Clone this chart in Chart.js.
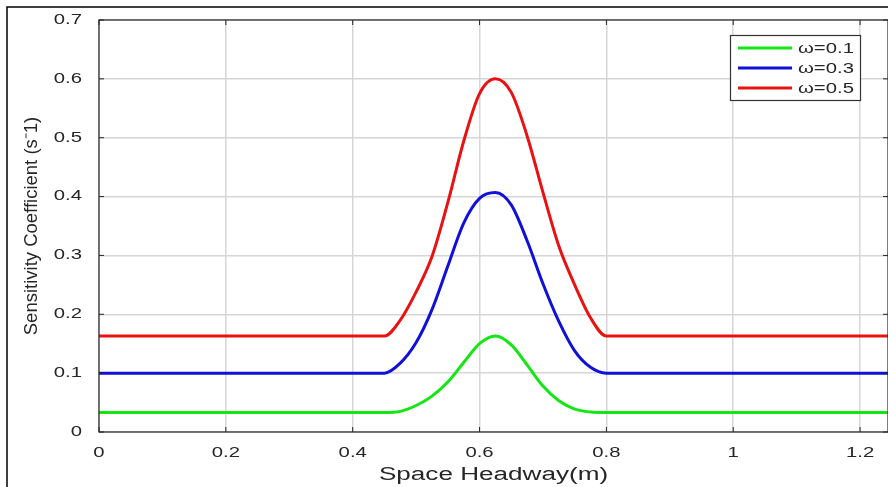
<!DOCTYPE html>
<html>
<head>
<meta charset="utf-8">
<script src="https://cdn.jsdelivr.net/npm/chart.js@4.4.1/dist/chart.umd.min.js"></script>
<style>
html,body{margin:0;padding:0;background:#fff;}
#wrap{width:888px;height:487px;position:relative;}
</style>
</head>
<body>
<div id="wrap"><canvas id="c"></canvas></div>
<script>
// ---- data ----
const headway = [0, 0.45, 0.475, 0.5, 0.525, 0.55, 0.575, 0.6, 0.625, 0.65, 0.675, 0.7, 0.725, 0.75, 0.775, 0.8, 1.25];
const omega01 = [0.033, 0.033, 0.035, 0.045, 0.061, 0.085, 0.118, 0.150, 0.163, 0.148, 0.114, 0.078, 0.053, 0.039, 0.034, 0.033, 0.033];
const omega03 = [0.100, 0.100, 0.117, 0.152, 0.208, 0.282, 0.355, 0.397, 0.407, 0.386, 0.325, 0.252, 0.188, 0.138, 0.110, 0.100, 0.100];
const omega05 = [0.163, 0.163, 0.190, 0.238, 0.298, 0.390, 0.494, 0.575, 0.600, 0.577, 0.503, 0.407, 0.316, 0.250, 0.194, 0.163, 0.163];
const seriesLabels = ['ω=0.1', 'ω=0.3', 'ω=0.5'];
const seriesColors = ['#14e614', '#1010d8', '#e81212'];
const xTickValues = [0, 0.2, 0.4, 0.6, 0.8, 1, 1.2];
const yTickValues = [0, 0.1, 0.2, 0.3, 0.4, 0.5, 0.6, 0.7];
const xTitle = 'Space Headway(m)';
const yTitle = 'Sensitivity Coefficient (s\u207B1)';

const FONT = "'Liberation Sans', Arial, Helvetica, sans-serif";
const STRETCH = 1.45;   // horizontal text in the reference is drawn wide
const AXIS = '#262626';

const canvas = document.getElementById('c');
const ctx0 = canvas.getContext('2d');
const protoFill = CanvasRenderingContext2D.prototype.fillText;
ctx0.fillText = function (text, x, y, maxWidth) {
  const m = this.getTransform();
  if (Math.abs(m.b) > 1e-6) {
    return maxWidth === undefined ? protoFill.call(this, text, x, y) : protoFill.call(this, text, x, y, maxWidth);
  }
  this.save();
  this.translate(x, y);
  this.scale(STRETCH, 1);
  if (maxWidth === undefined) protoFill.call(this, text, 0, 0);
  else protoFill.call(this, text, 0, 0, maxWidth / STRETCH);
  this.restore();
};

const toPoints = (ys) => headway.map((x, i) => ({ x: x, y: ys[i] }));
const seriesValues = [omega01, omega03, omega05];

const boxPlugin = {
  id: 'matlabBox',
  afterDatasetsDraw(chart) {
    const { ctx, chartArea: a, scales } = chart;
    ctx.save();
    // outer figure frame (left & top)
    ctx.strokeStyle = '#000';
    ctx.lineWidth = 1.5;
    ctx.beginPath();
    ctx.moveTo(7, 487); ctx.lineTo(7, 7); ctx.lineTo(888, 7);
    ctx.stroke();
    // axes box
    ctx.strokeStyle = AXIS;
    ctx.lineWidth = 1.2;
    ctx.strokeRect(a.left, a.top, a.right - a.left, a.bottom - a.top);
    // inward ticks
    ctx.lineWidth = 1;
    const tl = 5;
    ctx.beginPath();
    scales.x.ticks.forEach(t => {
      const px = scales.x.getPixelForValue(t.value);
      ctx.moveTo(px, a.bottom); ctx.lineTo(px, a.bottom - tl);
      ctx.moveTo(px, a.top); ctx.lineTo(px, a.top + tl);
    });
    scales.y.ticks.forEach(t => {
      const py = scales.y.getPixelForValue(t.value);
      ctx.moveTo(a.left, py); ctx.lineTo(a.left + tl, py);
      ctx.moveTo(a.right, py); ctx.lineTo(a.right - tl, py);
    });
    ctx.stroke();
    ctx.restore();
  },
  afterDraw(chart) {
    const { ctx } = chart;
    const ds = chart.data.datasets;
    ctx.save();
    const bx = 730, by = 35, bw = 130, bh = 65;
    ctx.fillStyle = '#fff';
    ctx.fillRect(bx, by, bw, bh);
    ctx.strokeStyle = '#333';
    ctx.lineWidth = 1.2;
    ctx.strokeRect(bx + 0.5, by + 0.5, bw, bh);
    ctx.font = '14px ' + FONT;
    ctx.textAlign = 'left';
    ctx.textBaseline = 'middle';
    ds.forEach((d, i) => {
      const y = by + 13 + i * 20;
      ctx.strokeStyle = d.borderColor;
      ctx.lineWidth = 3;
      ctx.beginPath();
      ctx.moveTo(738, y); ctx.lineTo(792, y);
      ctx.stroke();
      ctx.fillStyle = AXIS;
      ctx.fillText(d.label, 798, y + 1);
    });
    ctx.restore();
  }
};

new Chart(canvas, {
  type: 'line',
  data: {
    datasets: seriesLabels.map((lab, i) => ({
      label: lab,
      data: toPoints(seriesValues[i]),
      borderColor: seriesColors[i],
      backgroundColor: seriesColors[i],
      borderWidth: 3,
      pointRadius: 0,
      fill: false,
      cubicInterpolationMode: 'monotone'
    }))
  },
  options: {
    responsive: true,
    maintainAspectRatio: false,
    animation: false,
    devicePixelRatio: 1,
    events: [],
    layout: { padding: { top: 20, left: 0, right: 0, bottom: 0 } },
    plugins: { legend: { display: false }, tooltip: { enabled: false } },
    scales: {
      x: {
        type: 'linear',
        min: 0,
        max: 1.244,
        afterBuildTicks: s => { s.ticks = xTickValues.map(v => ({ value: v })); },
        afterFit: s => { s.height = 55; s.paddingLeft = 0; s.paddingRight = 0; },
        grid: { color: '#d6d6d6', lineWidth: 1.5, drawTicks: false },
        border: { display: false },
        ticks: {
          autoSkip: false, maxRotation: 0, padding: 13,
          color: AXIS, font: { family: FONT, size: 14 },
          callback: v => String(v)
        },
        title: {
          display: true, text: xTitle, color: AXIS,
          font: { family: FONT, size: 18 }, padding: { top: 0, bottom: 1 }
        }
      },
      y: {
        type: 'linear',
        min: 0,
        max: 0.7,
        afterBuildTicks: s => { s.ticks = yTickValues.map(v => ({ value: v })); },
        afterFit: s => { s.width = 99; s.paddingTop = 0; s.paddingBottom = 0; },
        grid: { color: '#d6d6d6', lineWidth: 1.5, drawTicks: false },
        border: { display: false },
        ticks: {
          padding: 17, color: AXIS, font: { family: FONT, size: 14 },
          callback: v => String(v)
        },
        title: {
          display: true, text: yTitle, color: AXIS,
          font: { family: FONT, size: 18.5 }, padding: { top: 21, bottom: 0 }
        }
      }
    }
  },
  plugins: [boxPlugin]
});
</script>
</body>
</html>
